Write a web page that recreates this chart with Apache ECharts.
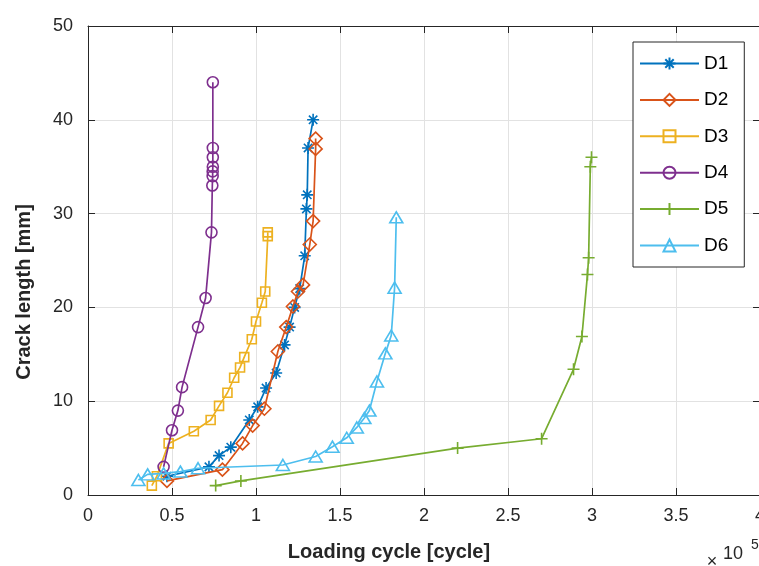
<!DOCTYPE html>
<html>
<head>
<meta charset="utf-8">
<script src="https://cdn.jsdelivr.net/npm/echarts@6/dist/echarts.min.js"></script>
<style>
  html, body { margin: 0; padding: 0; background: #fff; }
  #chart { width: 759px; height: 566px; }
</style>
</head>
<body>
<div id="chart"></div>
<script>
// Loading cycle (in units of 10^5 cycles) and crack length (mm) for each specimen
const d1Cycles = [0.47, 0.72, 0.78, 0.85, 0.96, 1.01, 1.06, 1.12, 1.17, 1.20, 1.23, 1.26, 1.29, 1.30, 1.305, 1.31, 1.34];
const d1Crack  = [2.0, 3.0, 4.2, 5.1, 8.0, 9.4, 11.4, 13.0, 16.0, 17.9, 20.0, 22.0, 25.5, 30.5, 32.0, 37.0, 40.0];

const d2Cycles = [0.47, 0.80, 0.92, 0.98, 1.05, 1.13, 1.18, 1.22, 1.25, 1.28, 1.32, 1.34, 1.355, 1.355];
const d2Crack  = [1.5, 2.7, 5.5, 7.4, 9.2, 15.3, 17.9, 20.1, 21.7, 22.4, 26.7, 29.2, 36.9, 38.0];

const d3Cycles = [0.38, 0.41, 0.48, 0.63, 0.73, 0.78, 0.83, 0.87, 0.905, 0.93, 0.975, 1.0, 1.035, 1.055, 1.07, 1.07];
const d3Crack  = [1.0, 2.0, 5.5, 6.8, 8.0, 9.5, 10.9, 12.5, 13.6, 14.7, 16.6, 18.5, 20.5, 21.7, 27.6, 28.0];

const d4Cycles = [0.45, 0.50, 0.535, 0.56, 0.655, 0.70, 0.735, 0.74, 0.742, 0.742, 0.743, 0.743, 0.743, 0.743];
const d4Crack  = [3.0, 6.9, 9.0, 11.5, 17.9, 21.0, 28.0, 33.0, 34.0, 34.5, 35.0, 36.0, 37.0, 44.0];

const d5Cycles = [0.76, 0.91, 2.2, 2.7, 2.89, 2.94, 2.973, 2.98, 2.99, 2.997];
const d5Crack  = [1.0, 1.5, 5.0, 6.0, 13.4, 16.9, 23.5, 25.3, 35.0, 36.0];

const d6Cycles = [0.30, 0.355, 0.45, 0.55, 0.655, 1.16, 1.355, 1.455, 1.54, 1.60, 1.645, 1.675, 1.72, 1.77, 1.805, 1.825, 1.835];
const d6Crack  = [1.6, 2.2, 2.3, 2.5, 2.85, 3.2, 4.1, 5.15, 6.1, 7.2, 8.2, 9.0, 12.1, 15.1, 17.0, 22.1, 29.6];

const specimenNames = ['D1', 'D2', 'D3', 'D4', 'D5', 'D6'];
const xTicks = { min: 0, max: 4, step: 0.5 };
const yTicks = { min: 0, max: 50, step: 10 };

const FONT = '"Liberation Sans", Arial, Helvetica, sans-serif';
const AXIS_COLOR = '#262626';

// hollow marker outlines
const ASTERISK = 'path://M5,0L5,10M0,5L10,5M1.5,1.5L8.5,8.5M8.5,1.5L1.5,8.5';
const PLUS = 'path://M5,0L5,10M0,5L10,5';

const styles = [
  { color: '#0072BD', symbol: ASTERISK, size: 12 },
  { color: '#D95319', symbol: 'diamond', size: 13 },
  { color: '#EDB120', symbol: 'rect', size: 9 },
  { color: '#7E2F8E', symbol: 'circle', size: 11 },
  { color: '#77AC30', symbol: PLUS, size: 12 },
  { color: '#4DBEEE', symbol: 'triangle', size: [13, 11] }
];

const xs = [d1Cycles, d2Cycles, d3Cycles, d4Cycles, d5Cycles, d6Cycles];
const ys = [d1Crack, d2Crack, d3Crack, d4Crack, d5Crack, d6Crack];

const series = specimenNames.map((name, k) => ({
  name: name,
  type: 'line',
  data: xs[k].map((x, i) => [x, ys[k][i]]),
  symbol: styles[k].symbol,
  symbolSize: styles[k].size,
  showAllSymbol: true,
  color: styles[k].color,
  lineStyle: { color: styles[k].color, width: 1.7 },
  itemStyle: { color: 'rgba(255,255,255,0)', borderColor: styles[k].color, borderWidth: 1.6 },
  emphasis: { disabled: true },
  z: 2 + k
}));

function frameAxis(base, pos, labels) {
  return Object.assign({}, base, {
    position: pos,
    axisLine: { show: true, onZero: false, lineStyle: { color: AXIS_COLOR, width: 1 } },
    axisTick: { show: true, inside: true, length: 7, lineStyle: { color: AXIS_COLOR, width: 1 } },
    axisLabel: labels,
    splitLine: { show: false }
  });
}

const xBase = { type: 'value', min: xTicks.min, max: xTicks.max, interval: xTicks.step };
const yBase = { type: 'value', min: yTicks.min, max: yTicks.max, interval: yTicks.step };

const option = {
  animation: false,
  backgroundColor: '#ffffff',
  grid: { left: 88, right: -1, top: 26, bottom: 71, containLabel: false, outerBoundsMode: 'none' },
  xAxis: [
    Object.assign(frameAxis(xBase, 'bottom', { show: true, fontSize: 18, color: AXIS_COLOR, margin: 12, fontFamily: FONT }),
      { splitLine: { show: true, lineStyle: { color: '#e2e2e2', width: 1 } } }),
    frameAxis(xBase, 'top', { show: false })
  ],
  yAxis: [
    Object.assign(frameAxis(yBase, 'left', { show: true, fontSize: 18, color: AXIS_COLOR, margin: 15, fontFamily: FONT }),
      { splitLine: { show: true, lineStyle: { color: '#e2e2e2', width: 1 } } }),
    frameAxis(yBase, 'right', { show: false })
  ],
  legend: {
    data: specimenNames,
    orient: 'vertical',
    left: 633,
    top: 42,
    padding: [12, 16, 12, 6],
    itemGap: 17.4,
    itemWidth: 59,
    itemHeight: 15,
    backgroundColor: '#ffffff',
    borderColor: AXIS_COLOR,
    borderWidth: 1,
    borderRadius: 0,
    selectedMode: false,
    textStyle: { fontSize: 19, color: '#000', fontFamily: FONT }
  },
  graphic: [
    {
      type: 'text', x: 389, y: 552,
      style: { text: 'Loading cycle [cycle]', font: 'bold 20px ' + FONT, fill: AXIS_COLOR, textAlign: 'center', textVerticalAlign: 'middle' }
    },
    {
      type: 'text', x: 24, y: 292, rotation: Math.PI / 2,
      style: { text: 'Crack length [mm]', font: 'bold 20px ' + FONT, fill: AXIS_COLOR, textAlign: 'center', textVerticalAlign: 'middle' }
    },
    {
      type: 'text', x: 712, y: 562,
      style: { text: '×', font: '18px ' + FONT, fill: AXIS_COLOR, textAlign: 'center', textVerticalAlign: 'middle' }
    },
    {
      type: 'text', x: 733, y: 554,
      style: { text: '10', font: '18px ' + FONT, fill: AXIS_COLOR, textAlign: 'center', textVerticalAlign: 'middle' }
    },
    {
      type: 'text', x: 755, y: 545,
      style: { text: '5', font: '14px ' + FONT, fill: AXIS_COLOR, textAlign: 'center', textVerticalAlign: 'middle' }
    }
  ],
  series: series
};

const chart = echarts.init(document.getElementById('chart'), null, { renderer: 'canvas' });
chart.setOption(option);
</script>
</body>
</html>
